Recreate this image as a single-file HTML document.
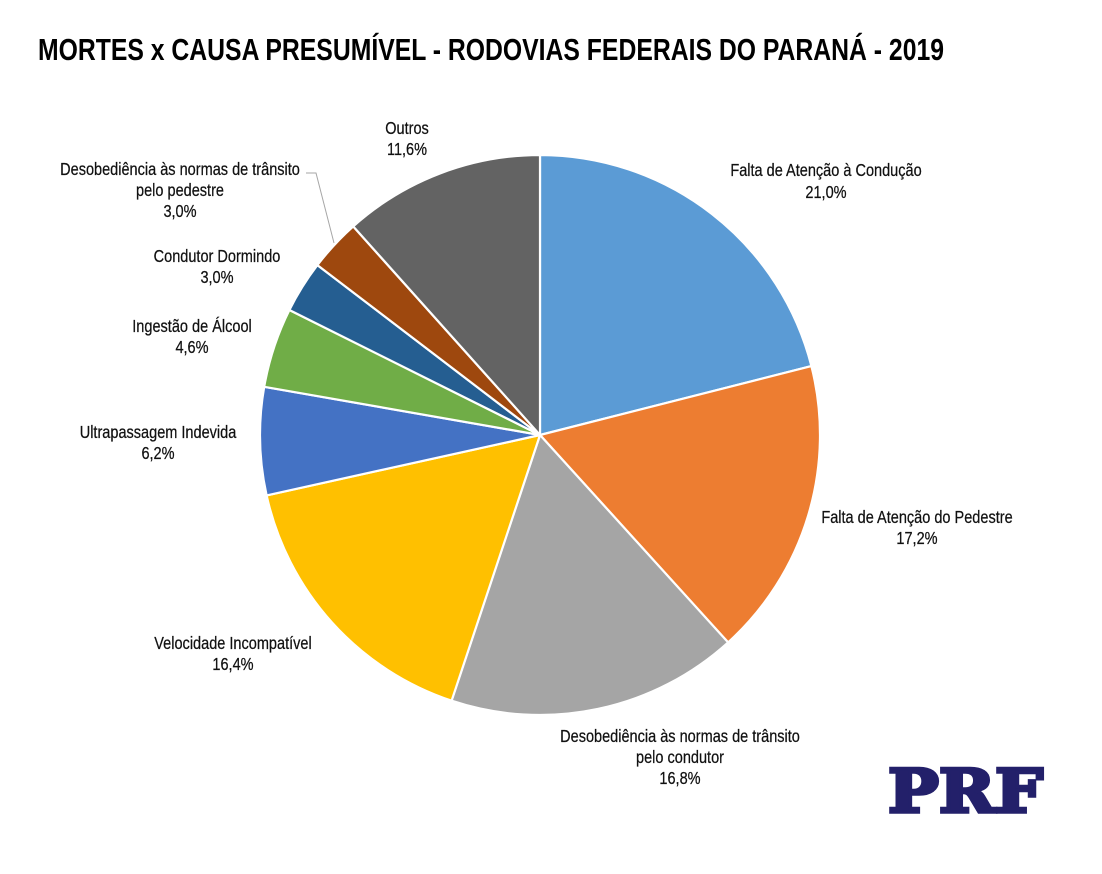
<!DOCTYPE html>
<html>
<head>
<meta charset="utf-8">
<style>
  html,body{margin:0;padding:0;background:#fff;}
  body{width:1102px;height:874px;overflow:hidden;}
  svg{display:block;}
  .lbl{font-family:"Liberation Sans",Arial,sans-serif;font-size:17.5px;fill:#111;stroke:#111;stroke-width:0.25;text-anchor:middle;}
</style>
</head>
<body>
<svg width="1102" height="874" viewBox="0 0 1102 874" xmlns="http://www.w3.org/2000/svg">
  <rect width="1102" height="874" fill="#fff"/>
  <text x="38" y="60" font-family="Liberation Sans Narrow, Liberation Sans, Arial, sans-serif" font-weight="bold" font-size="30.5" fill="#000" textLength="906" lengthAdjust="spacingAndGlyphs">MORTES x CAUSA PRESUMÍVEL - RODOVIAS FEDERAIS DO PARANÁ - 2019</text>

  <g stroke="#fff" stroke-width="2.2" stroke-linejoin="round">
    <path d="M540,435 L540,155 A280,280 0 0,1 811.4,366.1 Z" fill="#5B9BD5"/>
    <path d="M540,435 L811.4,366.1 A280,280 0 0,1 728.1,642.4 Z" fill="#ED7D31"/>
    <path d="M540,435 L728.1,642.4 A280,280 0 0,1 451.6,700.7 Z" fill="#A5A5A5"/>
    <path d="M540,435 L451.6,700.7 A280,280 0 0,1 266.6,495.4 Z" fill="#FFC000"/>
    <path d="M540,435 L266.6,495.4 A280,280 0 0,1 264.2,386.8 Z" fill="#4472C4"/>
    <path d="M540,435 L264.2,386.8 A280,280 0 0,1 289.4,310.0 Z" fill="#70AD47"/>
    <path d="M540,435 L289.4,310.0 A280,280 0 0,1 317.4,265.1 Z" fill="#255E91"/>
    <path d="M540,435 L317.4,265.1 A280,280 0 0,1 353.2,226.4 Z" fill="#9E480E"/>
    <path d="M540,435 L353.2,226.4 A280,280 0 0,1 540,155 Z" fill="#636363"/>
  </g>

  <!-- leader line -->
  <polyline points="306,173 316,173 334,243" fill="none" stroke="#a6a6a6" stroke-width="1"/>

  <!-- labels -->
  <g transform="translate(826,0) scale(0.83,1)">
    <text class="lbl" x="0" y="176">Falta de Atenção à Condução</text>
    <text class="lbl" x="0" y="198">21,0%</text>
  </g>
  <g transform="translate(917,0) scale(0.83,1)">
    <text class="lbl" x="0" y="523">Falta de Atenção do Pedestre</text>
    <text class="lbl" x="0" y="544">17,2%</text>
  </g>
  <g transform="translate(680,0) scale(0.83,1)">
    <text class="lbl" x="0" y="742">Desobediência às normas de trânsito</text>
    <text class="lbl" x="0" y="763">pelo condutor</text>
    <text class="lbl" x="0" y="784">16,8%</text>
  </g>
  <g transform="translate(233,0) scale(0.83,1)">
    <text class="lbl" x="0" y="649">Velocidade Incompatível</text>
    <text class="lbl" x="0" y="670">16,4%</text>
  </g>
  <g transform="translate(158,0) scale(0.83,1)">
    <text class="lbl" x="0" y="438">Ultrapassagem Indevida</text>
    <text class="lbl" x="0" y="459">6,2%</text>
  </g>
  <g transform="translate(192,0) scale(0.83,1)">
    <text class="lbl" x="0" y="332">Ingestão de Álcool</text>
    <text class="lbl" x="0" y="353">4,6%</text>
  </g>
  <g transform="translate(217,0) scale(0.83,1)">
    <text class="lbl" x="0" y="262">Condutor Dormindo</text>
    <text class="lbl" x="0" y="283">3,0%</text>
  </g>
  <g transform="translate(180,0) scale(0.83,1)">
    <text class="lbl" x="0" y="175">Desobediência às normas de trânsito</text>
    <text class="lbl" x="0" y="196">pelo pedestre</text>
    <text class="lbl" x="0" y="217">3,0%</text>
  </g>
  <g transform="translate(407,0) scale(0.83,1)">
    <text class="lbl" x="0" y="134">Outros</text>
    <text class="lbl" x="0" y="155">11,6%</text>
  </g>

  <!-- PRF logo -->
  <text x="888" y="812" font-family="DejaVu Serif, Liberation Serif, serif" font-weight="bold" font-size="60" fill="#23206A" stroke="#23206A" stroke-width="3.5" stroke-linejoin="miter" textLength="155" lengthAdjust="spacingAndGlyphs">PRF</text>
</svg>
</body>
</html>
